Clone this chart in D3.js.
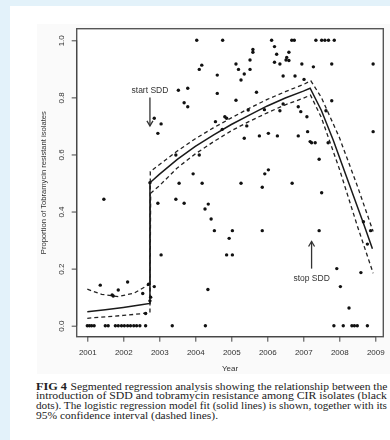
<!DOCTYPE html>
<html lang="en">
<head>
    <meta charset="UTF-8">
    <title>Segmented regression - tobramycin resistance</title>
    <script src="https://d3js.org/d3.v7.min.js"></script>
    <style>
        body { margin: 0; background-color: #e3f2fa; } /* light blue page behind the panel */
        svg { display: block; }
        .axis text { font-family: "Liberation Sans", Arial, sans-serif; font-size: 8px; fill: #333; }
        .axis line, .axis path { stroke: #444; }
        .note { font-family: "Liberation Sans", Arial, sans-serif; font-size: 8.5px; fill: #333; }
        .caption { font-family: "Liberation Serif", "Times New Roman", serif; font-size: 9.5px; fill: #222; }
    </style>
</head>
<body>
    <div id="chart"></div>
    <script type="text/javascript">
        // Tick values
        const years = [2001, 2002, 2003, 2004, 2005, 2006, 2007, 2008, 2009];
        const propTicks = [0, 0.2, 0.4, 0.6, 0.8, 1.0];

        // Isolates: [year, proportion resistant]
        const isolates = [
            // bottom row (0.0)
            [2001.0, 0], [2001.06, 0], [2001.12, 0], [2001.19, 0], [2001.5, 0], [2001.58, 0],
            [2001.78, 0], [2001.86, 0], [2001.95, 0], [2002.03, 0], [2002.12, 0], [2002.2, 0],
            [2002.29, 0], [2002.37, 0], [2002.46, 0], [2002.62, 0], [2003.36, 0], [2004.28, 0],
            [2007.85, 0], [2008.11, 0], [2008.35, 0], [2008.42, 0], [2008.5, 0], [2008.78, 0],
            // top row (1.0)
            [2004.04, 1], [2004.76, 1], [2006.12, 1], [2006.68, 1], [2006.75, 1], [2007.35, 1],
            [2007.51, 1], [2007.6, 1], [2007.7, 1], [2007.86, 1],
            // before SDD
            [2001.46, 0.443], [2001.36, 0.142], [2001.69, 0.108], [2001.72, 0.104], [2001.86, 0.125],
            [2002.12, 0.153], [2002.54, 0.113], [2002.7, 0.145], [2002.86, 0.137], [2002.76, 0.1],
            [2002.74, 0.087], [2002.62, 0.043],
            // during SDD
            [2002.74, 0.501], [2002.86, 0.727], [2003.05, 0.707], [2002.96, 0.674], [2002.96, 0.429],
            [2003.05, 0.248], [2003.46, 0.443], [2003.46, 0.598], [2003.53, 0.825], [2003.55, 0.499],
            [2003.69, 0.781], [2003.69, 0.429], [2003.79, 0.832], [2003.79, 0.767], [2003.94, 0.532],
            [2004.11, 0.598], [2004.11, 0.898], [2004.18, 0.913], [2004.19, 0.499], [2004.27, 0.409],
            [2004.36, 0.426], [2004.35, 0.127], [2004.44, 0.374], [2004.53, 0.333], [2004.56, 0.715],
            [2004.61, 0.878], [2004.61, 0.814], [2004.75, 0.688], [2004.82, 0.732], [2004.87, 0.727],
            [2004.87, 0.248], [2004.94, 0.306], [2005.03, 0.248], [2005.03, 0.333], [2005.13, 0.917],
            [2005.13, 0.79], [2005.2, 0.898], [2005.27, 0.861], [2005.27, 0.499], [2005.36, 0.882],
            [2005.36, 0.657], [2005.43, 0.70], [2005.47, 0.756], [2005.52, 0.931], [2005.52, 0.898],
            [2005.6, 0.968], [2005.6, 0.958], [2005.7, 0.818], [2005.78, 0.665], [2005.86, 0.485],
            [2005.86, 0.333], [2005.92, 0.757], [2005.93, 0.532], [2006.03, 0.546], [2006.03, 0.674],
            [2006.2, 0.978], [2006.2, 0.923], [2006.26, 0.951], [2006.28, 0.665], [2006.35, 0.917],
            [2006.35, 0.753], [2006.44, 0.875], [2006.44, 0.777], [2006.52, 0.931], [2006.54, 0.94],
            [2006.6, 0.958], [2006.6, 0.929], [2006.69, 0.499], [2006.77, 0.875], [2006.86, 0.767],
            [2006.86, 0.665], [2006.93, 0.75], [2006.96, 0.917], [2007.02, 0.863], [2007.1, 0.732],
            [2007.12, 0.68], [2007.19, 0.645], [2007.23, 0.641], [2007.28, 0.907], [2007.33, 0.641],
            [2007.44, 0.583], [2007.44, 0.333], [2007.51, 0.466], [2007.63, 0.753], [2007.69, 0.641],
            [2007.79, 0.917], [2007.79, 0.788],
            // after SDD
            [2007.93, 0.2], [2008.03, 0.137], [2008.27, 0.062], [2008.6, 0.186], [2008.67, 0.364],
            [2008.78, 0.286], [2008.87, 0.333], [2008.94, 0.917], [2008.94, 0.68]
        ];

        // Logistic model fit and 95% CI (three segments joined by the jump at SDD start)
        const fitLine = [
            [2001, 0.049], [2001.5, 0.056], [2002, 0.064], [2002.5, 0.073], [2002.74, 0.078],
            [2002.74, 0.501], [2003, 0.53], [2003.5, 0.583], [2004, 0.628], [2004.5, 0.668],
            [2005, 0.705], [2005.5, 0.738], [2006, 0.77], [2006.5, 0.798], [2007, 0.822], [2007.19, 0.832],
            [2007.5, 0.755], [2007.83, 0.651], [2008.2, 0.522], [2008.67, 0.359], [2008.92, 0.27]
        ];
        const ciUpper = [
            [2001, 0.128], [2001.4, 0.11], [2001.86, 0.102], [2002.3, 0.114], [2002.74, 0.146],
            [2002.75, 0.54], [2003.5, 0.612], [2004, 0.655], [2004.5, 0.693], [2005, 0.728],
            [2005.5, 0.762], [2006, 0.793], [2006.5, 0.82], [2007, 0.845], [2007.21, 0.858],
            [2007.5, 0.8], [2008, 0.66], [2008.5, 0.49], [2008.94, 0.33]
        ];
        const ciLower = [
            [2001, 0.026], [2001.5, 0.031], [2002, 0.036], [2002.5, 0.042], [2002.74, 0.046],
            [2002.76, 0.464], [2003, 0.49], [2003.5, 0.553], [2004, 0.602], [2004.5, 0.644],
            [2005, 0.683], [2005.5, 0.716], [2006, 0.746], [2006.5, 0.774], [2007, 0.797], [2007.2, 0.808],
            [2007.5, 0.73], [2008, 0.55], [2008.5, 0.35], [2008.94, 0.184]
        ];

        // Arrow notes: label, year, arrow from -> to, label position
        const notes = [
            { label: "start SDD", year: 2002.74, from: 0.80, to: 0.70, textAt: 0.825 },
            { label: "stop SDD", year: 2007.23, from: 0.20, to: 0.295, textAt: 0.166 }
        ];

        const captionLines = [
            "introduction of SDD and tobramycin resistance among CIR isolates (black",
            "dots). The logistic regression model fit (solid lines) is shown, together with its",
            "95% confidence interval (dashed lines)."
        ];

        const W = 390, H = 440;
        const box = { left: 76.7, right: 383.3, top: 28.7, bottom: 336.7 };

        const x = d3.scaleLinear().domain([2001, 2009]).range([87.3, 375.3]);
        const y = d3.scaleLinear().domain([0, 1]).range([325.7, 40.3]);

        const svg = d3.select("#chart").append("svg")
            .attr("width", W)
            .attr("height", H);

        // white page panel + faintly grey figure image
        svg.append("rect").attr("x", 10).attr("y", 6).attr("width", W).attr("height", H)
            .attr("fill", "#ffffff");
        svg.append("rect").attr("x", 37).attr("y", 24).attr("width", W - 37).attr("height", 350)
            .attr("fill", "#fafafa");

        const plot = svg.append("g").style("filter", "blur(0.35px)");

        plot.append("rect")
            .attr("x", box.left).attr("y", box.top)
            .attr("width", box.right - box.left).attr("height", box.bottom - box.top)
            .attr("fill", "#ffffff").attr("stroke", "#555").attr("stroke-width", 1.4);

        // X axis
        const xAxis = plot.append("g")
            .attr("class", "axis")
            .attr("transform", `translate(0,${box.bottom})`)
            .call(d3.axisBottom(x).tickValues(years).tickFormat(d3.format("d")).tickSize(5).tickPadding(8));
        xAxis.select(".domain").attr("d", `M${x(2001)},0H${x(2009)}`);

        // Y axis with R style vertical labels
        const yAxis = plot.append("g")
            .attr("class", "axis")
            .attr("transform", `translate(${box.left},0)`)
            .call(d3.axisLeft(y).tickValues(propTicks).tickFormat(d3.format(".1f")).tickSize(5));
        yAxis.select(".domain").attr("d", `M0,${y(0)}V${y(1)}`);
        yAxis.selectAll(".tick text")
            .attr("x", null).attr("dy", null)
            .attr("text-anchor", "middle")
            .attr("transform", "translate(-13,0) rotate(-90)");

        // axis titles
        plot.append("text")
            .attr("class", "axis-title")
            .attr("x", (box.left + box.right) / 2).attr("y", 371)
            .attr("text-anchor", "middle")
            .style("font-family", "Liberation Sans, Arial, sans-serif").style("font-size", "8px").style("fill", "#333")
            .text("Year");
        plot.append("text")
            .attr("transform", `translate(46,${(box.top + box.bottom) / 2}) rotate(-90)`)
            .attr("text-anchor", "middle")
            .style("font-family", "Liberation Sans, Arial, sans-serif").style("font-size", "7.6px").style("fill", "#333")
            .text("Proportion of Tobramycin resistant isolates");

        // fit and CI lines
        const line = d3.line().x(d => x(d[0])).y(d => y(d[1]));
        plot.append("path").datum(ciUpper).attr("d", line)
            .attr("fill", "none").attr("stroke", "#222").attr("stroke-width", 1.3).attr("stroke-dasharray", "4,3");
        plot.append("path").datum(ciLower).attr("d", line)
            .attr("fill", "none").attr("stroke", "#222").attr("stroke-width", 1.3).attr("stroke-dasharray", "4,3");
        plot.append("path").datum(fitLine).attr("d", line)
            .attr("fill", "none").attr("stroke", "#1a1a1a").attr("stroke-width", 1.5);

        // isolate dots
        plot.append("g").selectAll("circle")
            .data(isolates)
            .join("circle")
            .attr("cx", d => x(d[0]))
            .attr("cy", d => y(d[1]))
            .attr("r", 1.7)
            .attr("fill", "#111");

        // start/stop SDD arrows
        notes.forEach(n => {
            const px = x(n.year), y0 = y(n.from), y1 = y(n.to);
            const dir = y1 > y0 ? 1 : -1;
            plot.append("line")
                .attr("x1", px).attr("x2", px).attr("y1", y0).attr("y2", y1)
                .attr("stroke", "#333").attr("stroke-width", 1.3);
            plot.append("path")
                .attr("d", `M${px - 3},${y1 - dir * 5}L${px},${y1}L${px + 3},${y1 - dir * 5}`)
                .attr("fill", "none").attr("stroke", "#333").attr("stroke-width", 1.3);
            plot.append("text")
                .attr("class", "note")
                .attr("x", px).attr("y", y(n.textAt) + 3)
                .attr("text-anchor", "middle")
                .text(n.label);
        });

        // caption below the figure (justified lines, kept inside the page)
        const cap = svg.append("g").attr("class", "caption");
        cap.append("text").attr("x", 36).attr("y", 389.5)
            .style("font-weight", "bold").attr("textLength", 31).attr("lengthAdjust", "spacingAndGlyphs")
            .text("FIG 4");
        cap.append("text").attr("x", 70.5).attr("y", 389.5)
            .attr("textLength", 317).attr("lengthAdjust", "spacingAndGlyphs")
            .text("Segmented regression analysis showing the relationship between the");
        captionLines.forEach((t, i) => {
            const last = i === captionLines.length - 1;
            cap.append("text").attr("x", 36).attr("y", 399.3 + i * 9.6)
                .attr("textLength", last ? 182 : 351).attr("lengthAdjust", "spacingAndGlyphs")
                .text(t);
        });
    </script>
</body>
</html>
